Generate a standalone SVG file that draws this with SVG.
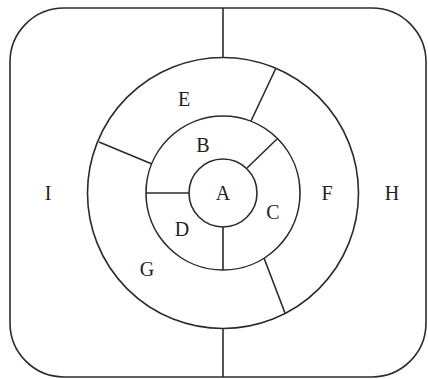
<svg xmlns="http://www.w3.org/2000/svg" width="428" height="379" viewBox="0 0 428 379">
<style>
.s{fill:none;stroke:#2b2b2b;stroke-width:1.6}
.t{font-family:"Liberation Serif",serif;font-size:20px;fill:#222;text-anchor:middle}
</style>
<rect width="428" height="379" fill="#fff"/>
<g id="frame"><rect class="s" x="10" y="8" width="416" height="369" rx="54" ry="54"/></g>
<g id="ringOuter"><circle class="s" cx="223" cy="193" r="135.5"/></g>
<g id="ringMiddle"><circle class="s" cx="223" cy="193" r="77"/></g>
<g id="A"><circle class="s" cx="223" cy="193" r="34"/><text class="t" x="223" y="200">A</text></g>
<g id="connectors">
<line class="s" x1="223" y1="8" x2="223" y2="57.5"/>
<line class="s" x1="223" y1="328.5" x2="223" y2="377"/>
<line class="s" x1="276" y1="68" x2="251" y2="121"/>
<line class="s" x1="99" y1="142" x2="152" y2="164"/>
<line class="s" x1="285" y1="313" x2="264" y2="258"/>
<line class="s" x1="277" y1="139" x2="247" y2="168"/>
<line class="s" x1="146" y1="193" x2="189" y2="193"/>
<line class="s" x1="223" y1="227" x2="223" y2="270"/>
</g>
<g id="B"><text class="t" x="203" y="152">B</text></g>
<g id="C"><text class="t" x="273" y="219">C</text></g>
<g id="D"><text class="t" x="182" y="236">D</text></g>
<g id="E"><text class="t" x="184" y="106">E</text></g>
<g id="F"><text class="t" x="327" y="200">F</text></g>
<g id="G"><text class="t" x="147" y="276">G</text></g>
<g id="H"><text class="t" x="392" y="200">H</text></g>
<g id="I"><text class="t" x="48" y="200">I</text></g>
</svg>
